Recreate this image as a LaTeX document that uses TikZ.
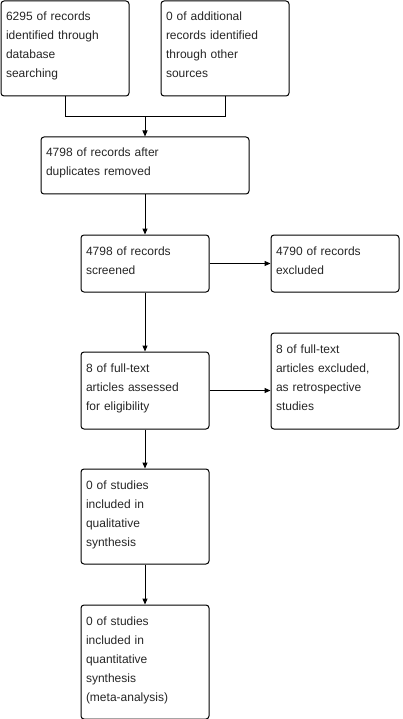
\documentclass[tikz,border=0pt]{standalone}
\usepackage{fontspec}
\setmainfont{Liberation Sans}
\usetikzlibrary{arrows.meta}
\begin{document}
\begin{tikzpicture}[x=1pt,y=-1pt,
	stage/.style={draw,rectangle,rounded corners=3pt,line width=1pt,anchor=north west,align=left,
		inner xsep=5pt,inner ysep=2pt,text height=18pt,font=\fontsize{12}{19}\selectfont,text=black!85},
	narrow/.style={text width=118pt},
	wide/.style={text width=198pt},
	flow/.style={line width=1pt,-{Triangle[length=6pt,width=5pt]}}]
	
	\useasboundingbox (0,0) rectangle (402,719);
	
	%identification
	\node[stage,narrow,text depth=73pt](ident) at (0.5,0.5) {6295 of records\\identified through\\database\\searching};
	\node[stage,narrow,text depth=73pt](other) at (160.5,0.5) {0 of additional\\records identified\\through other\\sources};
	\node[stage,wide,text depth=35pt](dedup) at (40.5,136.5) {4798 of records after\\duplicates removed};
	%screening
	\node[stage,narrow,text depth=35pt](screen) at (80.5,234.5) {4798 of records\\screened};
	\node[stage,narrow,text depth=35pt](excl) at (270.5,234.5) {4790 of records\\excluded};
	%eligibility
	\node[stage,narrow,text depth=55pt](assess) at (80.5,351.5) {8 of full-text\\articles assessed\\for eligibility};
	\node[stage,narrow,text depth=74pt](exclft) at (270.5,332.5) {8 of full-text\\articles excluded,\\as retrospective\\studies};
	%included
	\node[stage,narrow,text depth=73pt](qual) at (80.5,468.5) {0 of studies\\included in\\qualitative\\synthesis};
	\node[stage,narrow,text depth=92pt](quant) at (80.5,604.5) {0 of studies\\included in\\quantitative\\synthesis\\(meta-analysis)};
	
	%arrows
	\coordinate (merge) at (dedup.north |- 0,116.5);
	\draw[line width=1pt] (ident.south) |- (merge) -| (other.south);
	\draw[flow] (merge) -- (dedup.north);
	\draw[flow] (dedup.south) -- (screen.north);
	\draw[flow] (screen.east) -- (excl.west);
	\draw[flow] (screen.south) -- (assess.north);
	\draw[flow] (assess.east) -- (assess.east -| exclft.west);
	\draw[flow] (assess.south) -- (qual.north);
	\draw[flow] (qual.south) -- (quant.north);
\end{tikzpicture}
\end{document}
